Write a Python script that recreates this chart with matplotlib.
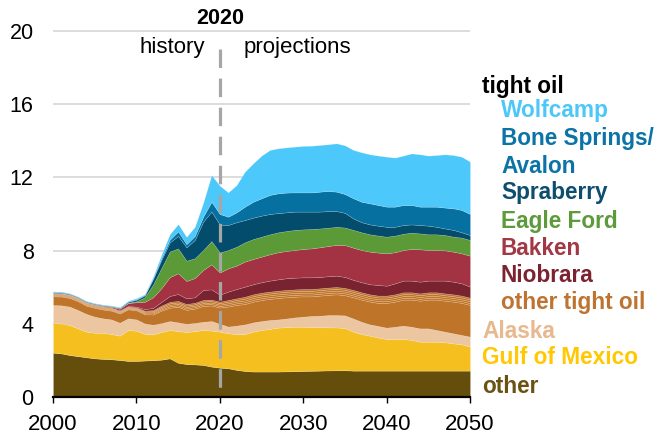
import matplotlib.pyplot as plt
import numpy as np

plt.rcParams['font.family'] = ['Liberation Sans', 'DejaVu Sans']

# ─────────────────────────────────────────────
# DATOS (millones de barriles/día)
# ─────────────────────────────────────────────
years = np.arange(2000, 2051)

other = [2.42, 2.38, 2.29, 2.23, 2.17, 2.11, 2.08, 2.06, 2.02, 1.97,
         1.97, 1.99, 2.01, 2.04, 2.11, 1.87, 1.80, 1.78, 1.75, 1.66,
         1.60, 1.57, 1.48, 1.42, 1.39, 1.39, 1.39, 1.39, 1.40, 1.41,
         1.42, 1.43, 1.44, 1.45, 1.46, 1.46, 1.44, 1.44, 1.44, 1.44,
         1.44, 1.44, 1.44, 1.44, 1.44, 1.44, 1.44, 1.44, 1.44, 1.44, 1.44]

gulf_of_mexico = [1.64, 1.64, 1.64, 1.52, 1.40, 1.40, 1.43, 1.38, 1.33, 1.69,
                  1.65, 1.46, 1.41, 1.51, 1.55, 1.73, 1.75, 1.82, 1.91, 1.97,
                  1.97, 1.91, 1.96, 2.02, 2.18, 2.27, 2.33, 2.40, 2.42, 2.43,
                  2.42, 2.39, 2.37, 2.36, 2.34, 2.31, 2.13, 2.00, 1.91, 1.81,
                  1.73, 1.73, 1.73, 1.68, 1.58, 1.58, 1.58, 1.55, 1.49, 1.44, 1.31]

alaska = [0.97, 0.99, 1.01, 1.00, 0.97, 0.88, 0.79, 0.80, 0.71, 0.64,
          0.62, 0.57, 0.53, 0.49, 0.49, 0.48, 0.45, 0.45, 0.45, 0.52,
          0.43, 0.37, 0.46, 0.53, 0.51, 0.49, 0.49, 0.45, 0.47, 0.51,
          0.55, 0.61, 0.63, 0.67, 0.68, 0.69, 0.72, 0.67, 0.62, 0.63,
          0.62, 0.67, 0.73, 0.72, 0.73, 0.73, 0.64, 0.58, 0.55, 0.51, 0.55]

# total de "other tight oil" (incluye las cuatro formaciones pequeñas de arriba)
other_tight_oil = [0.63, 0.64, 0.63, 0.64, 0.61, 0.64, 0.64, 0.64, 0.66, 0.65,
                   0.66, 0.70, 0.80, 0.96, 1.05, 1.17, 1.08, 1.10, 1.19, 1.17,
                   1.21, 1.45, 1.49, 1.51, 1.53, 1.55, 1.55, 1.57, 1.56, 1.53,
                   1.51, 1.47, 1.50, 1.50, 1.53, 1.50, 1.56, 1.61, 1.64, 1.66,
                   1.75, 1.77, 1.82, 1.88, 1.91, 1.97, 2.06, 2.09, 2.13, 2.15, 2.13]

# producción aproximada de cada una de las formaciones pequeñas
minor_play = [0.04, 0.04, 0.04, 0.04, 0.04, 0.04, 0.04, 0.04, 0.04, 0.04,
              0.04, 0.05, 0.06, 0.07, 0.08, 0.08, 0.08, 0.08, 0.08, 0.08,
              0.08, 0.09, 0.09, 0.10, 0.10, 0.10, 0.10, 0.10, 0.10, 0.10,
              0.10, 0.10, 0.10, 0.10, 0.10, 0.10, 0.10, 0.10, 0.10, 0.10,
              0.10, 0.10, 0.10, 0.10, 0.10, 0.10, 0.10, 0.10, 0.10, 0.10, 0.10]
N_MINOR = 4

niobrara = [0.01, 0.01, 0.01, 0.01, 0.01, 0.01, 0.01, 0.01, 0.01, 0.02,
            0.04, 0.08, 0.12, 0.20, 0.32, 0.38, 0.31, 0.30, 0.55, 0.56,
            0.38, 0.46, 0.51, 0.55, 0.55, 0.57, 0.60, 0.62, 0.64, 0.64,
            0.64, 0.64, 0.62, 0.62, 0.62, 0.60, 0.55, 0.55, 0.55, 0.58,
            0.54, 0.60, 0.64, 0.64, 0.64, 0.64, 0.64, 0.70, 0.69, 0.67, 0.60]

bakken = [0.01, 0.01, 0.01, 0.01, 0.01, 0.02, 0.03, 0.04, 0.09, 0.16,
          0.24, 0.40, 0.58, 0.75, 1.03, 1.13, 0.95, 1.05, 1.09, 1.37,
          1.21, 1.27, 1.28, 1.37, 1.38, 1.40, 1.44, 1.48, 1.49, 1.51,
          1.55, 1.58, 1.62, 1.65, 1.68, 1.74, 1.76, 1.76, 1.78, 1.77,
          1.77, 1.70, 1.67, 1.73, 1.77, 1.67, 1.67, 1.65, 1.64, 1.64, 1.69]

eagle_ford = [0.01, 0.01, 0.01, 0.01, 0.01, 0.01, 0.01, 0.01, 0.01, 0.02,
              0.05, 0.25, 0.70, 1.10, 1.40, 1.36, 1.11, 1.08, 1.09, 1.27,
              1.10, 1.00, 1.03, 1.05, 1.09, 1.09, 1.09, 1.09, 1.09, 1.10,
              1.07, 1.06, 1.03, 1.00, 0.99, 0.96, 0.97, 0.97, 0.95, 0.93,
              0.91, 0.91, 0.89, 0.89, 0.87, 0.86, 0.86, 0.84, 0.82, 0.86, 0.86]

spraberry = [0.03, 0.03, 0.03, 0.03, 0.03, 0.03, 0.03, 0.03, 0.04, 0.05,
             0.08, 0.10, 0.30, 0.45, 0.50, 0.68, 0.73, 1.00, 1.55, 1.61,
             1.52, 1.37, 1.34, 1.22, 1.17, 1.15, 1.11, 1.05, 1.02, 1.00,
             0.97, 0.95, 0.92, 0.91, 0.86, 0.80, 0.63, 0.55, 0.54, 0.54,
             0.54, 0.48, 0.48, 0.45, 0.46, 0.47, 0.41, 0.36, 0.37, 0.29, 0.27]

bone_springs = [0.02, 0.02, 0.02, 0.02, 0.02, 0.01, 0.01, 0.01, 0.01, 0.02,
                0.03, 0.03, 0.05, 0.10, 0.15, 0.25, 0.17, 0.22, 0.27, 0.54,
                0.58, 0.45, 0.54, 0.73, 0.87, 0.95, 1.04, 1.08, 1.08, 1.05,
                1.05, 1.05, 1.09, 1.10, 1.06, 1.03, 1.10, 1.12, 1.15, 1.13,
                1.10, 1.10, 1.09, 1.06, 1.00, 1.04, 1.10, 1.14, 1.18, 1.22, 1.15]

wolfcamp = [0.03, 0.03, 0.02, 0.02, 0.02, 0.02, 0.02, 0.02, 0.03, 0.04,
            0.06, 0.04, 0.08, 0.18, 0.30, 0.40, 0.40, 0.50, 0.75, 1.46,
            1.55, 1.33, 1.49, 1.91, 2.10, 2.33, 2.46, 2.46, 2.47, 2.50,
            2.54, 2.55, 2.55, 2.55, 2.64, 2.66, 2.64, 2.70, 2.68, 2.70,
            2.73, 2.68, 2.70, 2.82, 2.86, 2.79, 2.82, 2.91, 2.91, 2.91, 2.86]

# ─────────────────────────────────────────────
# COLORES
# ─────────────────────────────────────────────
C_OTHER = '#654E0C'
C_GOM = '#F5C01F'
C_ALASKA = '#EBC6A0'
C_TIGHT = '#BE7429'
C_NIOB = '#7A2330'
C_BAKKEN = '#A33342'
C_EF = '#5C9A37'
C_SPRA = '#034C6B'
C_BONE = '#0671A0'
C_WOLF = '#4DC8FA'

minor = np.array(minor_play)
tight_main = np.array(other_tight_oil) - N_MINOR * minor

capas = [other, gulf_of_mexico, alaska, tight_main] + [minor] * N_MINOR + \
        [niobrara, bakken, eagle_ford, spraberry, bone_springs, wolfcamp]
colores = [C_OTHER, C_GOM, C_ALASKA, C_TIGHT] + [C_TIGHT] * N_MINOR + \
          [C_NIOB, C_BAKKEN, C_EF, C_SPRA, C_BONE, C_WOLF]

fig = plt.figure(figsize=(6.56, 4.36), dpi=100)
Y_TOP = 20.2
ax = fig.add_axes([53 / 656, 39 / 436, 417 / 656, (366 + 0.2 * 18.3) / 436])

polys = ax.stackplot(years, *capas, colors=colores, zorder=2)
for i, p in enumerate(polys):
    p.set_linewidth(0.4)
    # bordes claros muy finos entre capas, como en el original
    if 4 <= i < 4 + N_MINOR:
        p.set_edgecolor((1, 0.9, 0.8, 0.3))
    else:
        p.set_edgecolor((1, 1, 1, 0.22))

ax.set_xlim(2000, 2050)
ax.set_ylim(0, Y_TOP)
ax.set_xticks(range(2000, 2051, 10))
ax.set_yticks(range(0, 21, 4))
ax.set_axisbelow(True)
ax.yaxis.grid(True, color='#d9d9d9', linewidth=1.3, zorder=0)

for s in ['top', 'right', 'left']:
    ax.spines[s].set_visible(False)
ax.spines['bottom'].set_linewidth(1.6)
ax.spines['bottom'].set_zorder(5)
ax.tick_params(axis='y', length=0, pad=14, labelsize=15.5)
ax.tick_params(axis='x', direction='out', length=4.5, width=1, pad=8, labelsize=16)

# línea 2020 (historia / proyecciones)
ax.plot([2020, 2020], [19.0, 0], color='#a6a6a6', linewidth=2.3,
        linestyle=(0, (5.8, 3.3)), zorder=4, clip_on=False)
ax.text(2020, 20.7, '2020', ha='center', va='center', fontsize=15.5,
        fontweight='bold', clip_on=False)
ax.text(2018.2, 19.1, 'history', ha='right', va='center', fontsize=16)
ax.text(2022.9, 19.1, 'projections', ha='left', va='center', fontsize=16)

# leyenda en texto a la derecha
leyenda = [
    ('tight oil', 'black', 482, 86),
    ('Wolfcamp', '#4CC8F8', 501, 111),
    ('Bone Springs/', '#0B73A6', 501, 138),
    ('Avalon', '#0B73A6', 501, 166),
    ('Spraberry', '#0D4D6E', 501, 193),
    ('Eagle Ford', '#5D9A3B', 501, 221),
    ('Bakken', '#A33845', 501, 248),
    ('Niobrara', '#7B2331', 501, 276),
    ('other tight oil', '#BE7430', 501, 303),
    ('Alaska', '#E8B88E', 482, 331),
    ('Gulf of Mexico', '#FFC800', 482, 358),
    ('other', '#6A5312', 482, 386),
]
for texto, color, x, y in leyenda:
    fig.text(x / 656, 1 - y / 436, texto, color=color, fontsize=16.3,
             fontweight='bold', ha='left', va='center')

plt.savefig('out.png', dpi=100)
